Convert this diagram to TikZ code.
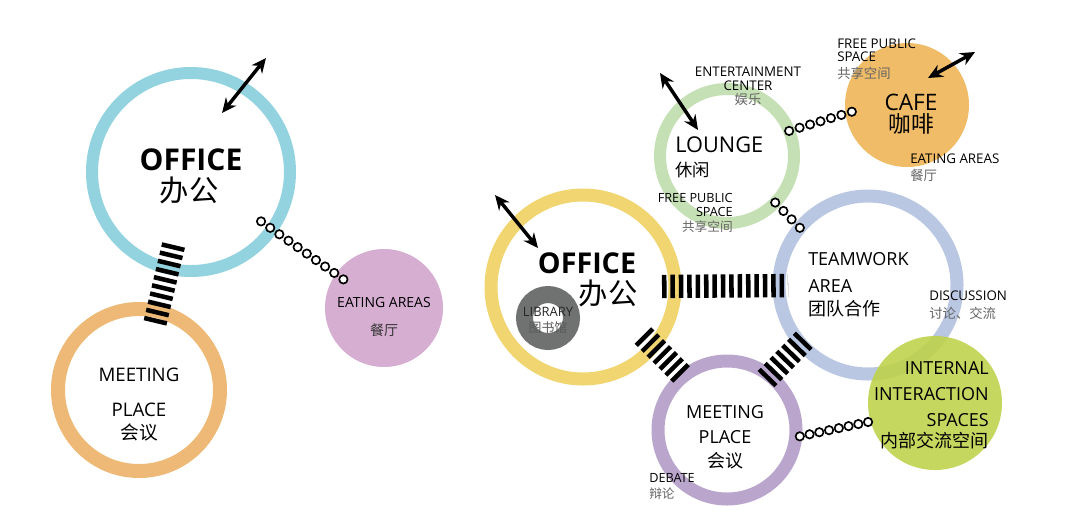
\documentclass[tikz,border=0pt]{standalone}
\usepackage{fontspec}
\setmainfont{Open Sans}
\newfontfamily\cjk{Noto Sans CJK SC}
\usetikzlibrary{arrows.meta,calc}
\definecolor{officecyan}{RGB}{146,211,223}
\definecolor{meetorange}{RGB}{238,185,118}
\definecolor{eatpink}{RGB}{214,174,209}
\definecolor{officeyellow}{RGB}{240,213,112}
\definecolor{libgray}{RGB}{112,113,113}
\definecolor{loungegreen}{RGB}{198,224,181}
\definecolor{cafeorange}{RGB}{240,188,104}
\definecolor{teamblue}{RGB}{185,199,227}
\definecolor{meetpurple}{RGB}{186,166,205}
\definecolor{interlime}{RGB}{190,210,72}
\definecolor{subgray}{RGB}{100,100,100}
\newcommand{\zhsub}[1]{{\cjk\color{subgray}#1}}
\tikzset{
  ring/.style={circle, draw=#1, inner sep=0pt, outer sep=0pt},
  disc/.style={circle, fill=#1, inner sep=0pt, outer sep=0pt},
  ladder/.style={line width=17.5pt, dash pattern=on 3.4pt off 2.9pt},
  bead/.style={circle, draw, fill=white, line width=1.25pt, minimum size=6.3pt, inner sep=0pt},
  access/.style={{Stealth[length=11pt,width=10pt]}-{Stealth[length=11pt,width=10pt]}, line width=2.6pt},
  txt/.style={inner sep=0pt, text=black},
}

\begin{document}
\begin{tikzpicture}[x=0.75pt, y=-0.75pt]
  \path[fill=white, use as bounding box] (0,0) rectangle (1080,526);

  % zones
  \node[ring=officecyan, line width=9pt, minimum size=148.5pt] (offA) at (191,172) {};
  \node[ring=meetorange, line width=10.5pt, minimum size=121.5pt] (meetA) at (139,390) {};
  \node[disc=eatpink, minimum size=88.5pt] (eat) at (384,308) {};
  \node[ring=officeyellow, line width=9.75pt, minimum size=138pt] (offB) at (583,287) {};
  \node[ring=libgray, line width=12.75pt, minimum size=35.25pt] (lib) at (548,318) {};
  \node[ring=loungegreen, line width=9pt, minimum size=100.5pt] (lounge) at (727,156) {};
  \node[disc=cafeorange, minimum size=93pt] (cafe) at (907,105) {};
  \node[ring=teamblue, line width=9.75pt, minimum size=133.5pt] (team) at (868,285) {};
  \node[ring=meetpurple, line width=9.75pt, minimum size=103.5pt] (meetB) at (727,430) {};
  \node[disc=interlime, fill opacity=0.88, minimum size=100.5pt] (inter) at (935,403) {};

  % direct links
  \draw[ladder, shorten <=-18pt, shorten >=-10.5pt] (offA) -- (meetA);
  \draw[ladder, shorten <=-9.75pt, shorten >=-6.75pt] (offB) -- (team);
  \draw[ladder, shorten <=-11.25pt, shorten >=1.1pt] (offB.-40) -- (meetB.129);
  \draw[ladder, shorten <=-3.75pt, shorten >=-5.25pt] (team.-139) -- (meetB.52);

  % loose links
  \foreach \i [evaluate=\i as \p using 0.363+0.0474*\i] in {0,...,9}
    \path (offA.center) -- (eat.center) node[bead, pos=\p] (beadA\i) {};
  \foreach \i [evaluate=\i as \p using 0.185*\i] in {0,...,6}
    \path (lounge.22) -- (cafe.188) node[bead, pos=\p] (beadB\i) {};
  \foreach \i [evaluate=\i as \p using \i/3] in {0,...,3}
    \path (lounge.-44) -- (team.140) node[bead, pos=\p] (beadC\i) {};
  \foreach \i [evaluate=\i as \p using 0.056+0.13*\i] in {0,...,7}
    \path (meetB.-6) -- (inter.196) node[bead, pos=\p] (beadD\i) {};

  % access to outside
  \coordinate (offAin) at (222,113);  \coordinate (offAout) at (266,58);
  \coordinate (offBin) at (538,248);  \coordinate (offBout) at (495,195);
  \coordinate (loungein) at (698,130); \coordinate (loungeout) at (660,73);
  \coordinate (cafein) at (928,78);   \coordinate (cafeout) at (975,52);
  \draw[access] (offAin) -- (offAout);
  \draw[access] (offBin) -- (offBout);
  \draw[access] (loungein) -- (loungeout);
  \draw[access] (cafein) -- (cafeout);

  % labels
  \node[txt, font=\fontsize{22.5}{24}\selectfont\bfseries] (offAname) at (191,160) {OFFICE};
  \node[txt, font=\cjk\fontsize{22}{24}\selectfont] (offAzh) at (189,190) {办公};
  \node[txt, anchor=north, align=center, font=\fontsize{14}{17.5}\selectfont] (meetAname) at (139,367.3) {MEETING\\[8.8pt]PLACE\\{\cjk 会议}};
  \node[txt, anchor=north, align=center, font=\fontsize{10.5}{13}\selectfont] (eatname) at (384,297) {EATING AREAS\\[8pt]{\cjk\color{black!80}餐厅}};

  \node[txt, font=\fontsize{21.5}{24}\selectfont\bfseries] (offBname) at (587,263) {OFFICE};
  \node[txt, font=\cjk\fontsize{22}{24}\selectfont] (offBzh) at (608,293) {办公};
  \node[txt, anchor=north, align=center, font=\fontsize{9.7}{11.7}\selectfont, text=black!85] (libname) at (548,307.4) {LIBRARY\\{\cjk\color{black!65}图书馆}};

  \node[txt, anchor=north, align=center, font=\fontsize{10}{10.6}\selectfont] (entname) at (748,66.3) {ENTERTAINMENT\\CENTER\\\zhsub{娱乐}};
  \node[txt, anchor=west, font=\fontsize{16.3}{18}\selectfont] (loungename) at (675,145) {LOUNGE};
  \node[txt, anchor=west, font=\cjk\fontsize{13}{15}\selectfont] (loungezh) at (675,170) {休闲};
  \node[txt, anchor=north east, align=right, font=\fontsize{9.5}{10.5}\selectfont] (loungefree) at (733,192.7) {FREE PUBLIC\\SPACE\\[1.3pt]\zhsub{共享空间}};

  \node[txt, anchor=north, align=center, font=\fontsize{17}{17}\selectfont] (cafename) at (911,93.4) {CAFE\\{\cjk 咖啡}};
  \node[txt, anchor=north west, align=left, font=\fontsize{10}{9.75}\selectfont] (cafefree) at (837,38.3) {FREE PUBLIC\\SPACE\\[3.25pt]\zhsub{共享空间}};
  \node[txt, anchor=north west, align=left, font=\fontsize{10}{12.9}\selectfont] (cafeeat) at (910,153.3) {EATING AREAS\\\zhsub{餐厅}};

  \node[txt, anchor=north west, align=left, font=\fontsize{13.5}{16.6}\selectfont] (teamname) at (808,252.6) {TEAMWORK\\[3.65pt]AREA\\{\cjk 团队合作}};
  \node[txt, anchor=north west, align=left, font=\fontsize{10}{13.7}\selectfont] (discname) at (929,290.3) {DISCUSSION\\\zhsub{讨论、交流}};
  \node[txt, anchor=north east, align=right, font=\fontsize{13.5}{15.9}\selectfont] (intername) at (989,361.6) {INTERNAL\\[3.6pt]INTERACTION\\[3.6pt]SPACES\\{\cjk 内部交流空间}};
  \node[txt, anchor=north, align=center, font=\fontsize{13.5}{17.7}\selectfont] (meetBname) at (725,405.6) {MEETING\\[1pt]PLACE\\{\cjk 会议}};
  \node[txt, anchor=north west, align=left, font=\fontsize{9.5}{11.5}\selectfont] (debname) at (649,473.5) {DEBATE\\\zhsub{辩论}};
\end{tikzpicture}
\end{document}
